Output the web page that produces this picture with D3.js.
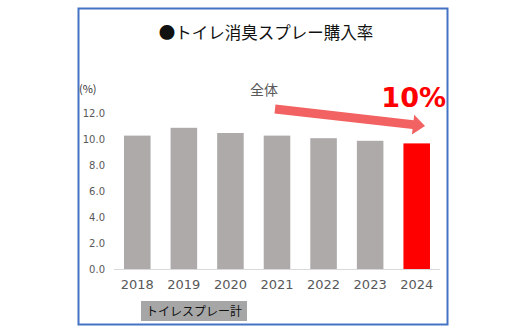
<!DOCTYPE html>
<html><head><meta charset="utf-8">
<script src="https://cdn.jsdelivr.net/npm/d3@7"></script>
<style>body{margin:0;background:#fff}svg{display:block}</style>
</head><body>
<svg id="c" width="525" height="333"></svg>
<script>
const years = ["2018","2019","2020","2021","2022","2023","2024"];
const rates = [10.3, 10.9, 10.5, 10.3, 10.1, 9.9, 9.7];
const yTicks = [0, 2, 4, 6, 8, 10, 12];
const title = "●トイレ消臭スプレー購入率";
const unitLabel = "(%)";
const legendLabel = "トイレスプレー計";
const noteLabel = "全体";
const highlightLabel = "10%";

const svg = d3.select("#c");
const font = "'Noto Sans CJK JP', 'Noto Sans', sans-serif";

// frame
svg.append("rect").attr("x",78.5).attr("y",8.5).attr("width",369).attr("height",316)
  .attr("fill","#fff").attr("stroke","#4472C4").attr("stroke-width",2);

const x = d3.scaleBand().domain(years).range([114, 440]).paddingInner(0.43).paddingOuter(0.215);
const y = d3.scaleLinear().domain([0, 12]).range([269.5, 113.5]);

svg.append("text").attr("x",266).attr("y",39).attr("text-anchor","middle")
  .attr("font-family",font).attr("font-size",16.5).attr("fill","#111").text(title);

// y axis labels
const yAxis = d3.axisLeft(y).tickValues(yTicks).tickFormat(d3.format(".1f")).tickSize(0).tickPadding(0);
const ga = svg.append("g").attr("transform","translate(105,0)").call(yAxis);
ga.select(".domain").remove();
ga.selectAll("text").attr("font-family","'DejaVu Sans', sans-serif").attr("font-size",10).attr("fill","#595959");

svg.append("text").attr("x",79).attr("y",93).attr("font-family",font).attr("font-size",11).attr("fill","#333").text(unitLabel);

// bars
svg.append("g").selectAll("rect").data(years).join("rect")
  .attr("x", d => x(d)).attr("width", x.bandwidth())
  .attr("y", (d,i) => y(rates[i])).attr("height", (d,i) => y(0) - y(rates[i]))
  .attr("fill", (d,i) => i === years.length-1 ? "#FF0000" : "#AEAAAA");

// baseline
svg.append("line").attr("x1",114).attr("x2",440).attr("y1",269.5).attr("y2",269.5)
  .attr("stroke","#D9D9D9").attr("stroke-width",1);

// x axis labels
const xAxis = d3.axisBottom(x).tickSize(0).tickPadding(0);
const gx = svg.append("g").attr("transform","translate(0,280)").call(xAxis);
gx.select(".domain").remove();
gx.selectAll("text").attr("font-family","'DejaVu Sans', sans-serif").attr("font-size",13).attr("fill","#595959").attr("dy","0.71em");

// legend box
svg.append("rect").attr("x",141).attr("y",301).attr("width",106).attr("height",20).attr("fill","#A6A6A6");
svg.append("text").attr("x",194).attr("y",316).attr("text-anchor","middle").attr("font-family",font)
  .attr("font-size",12).attr("fill","#111").text(legendLabel);

// note and arrow
svg.append("text").attr("x",250).attr("y",95).attr("font-family",font).attr("font-size",14).attr("fill","#595959").text(noteLabel);

const x0 = 275, y0 = 109, x1 = 425, y1 = 126;
const len = Math.hypot(x1-x0, y1-y0), ang = Math.atan2(y1-y0, x1-x0)*180/Math.PI;
const sw = 4.5, hl = 12, hw = 10;
svg.append("path")
  .attr("transform", `translate(${x0},${y0}) rotate(${ang})`)
  .attr("d", `M0,${-sw}L${len-hl},${-sw}L${len-hl},${-hw}L${len},0L${len-hl},${hw}L${len-hl},${sw}L0,${sw}Z`)
  .attr("fill","#F26262");

svg.append("text").attr("x",446).attr("y",107).attr("text-anchor","end").attr("font-family","'DejaVu Sans', sans-serif")
  .attr("font-weight","bold").attr("font-size",27).attr("fill","#FF0000").text(highlightLabel);
</script>
</body></html>
